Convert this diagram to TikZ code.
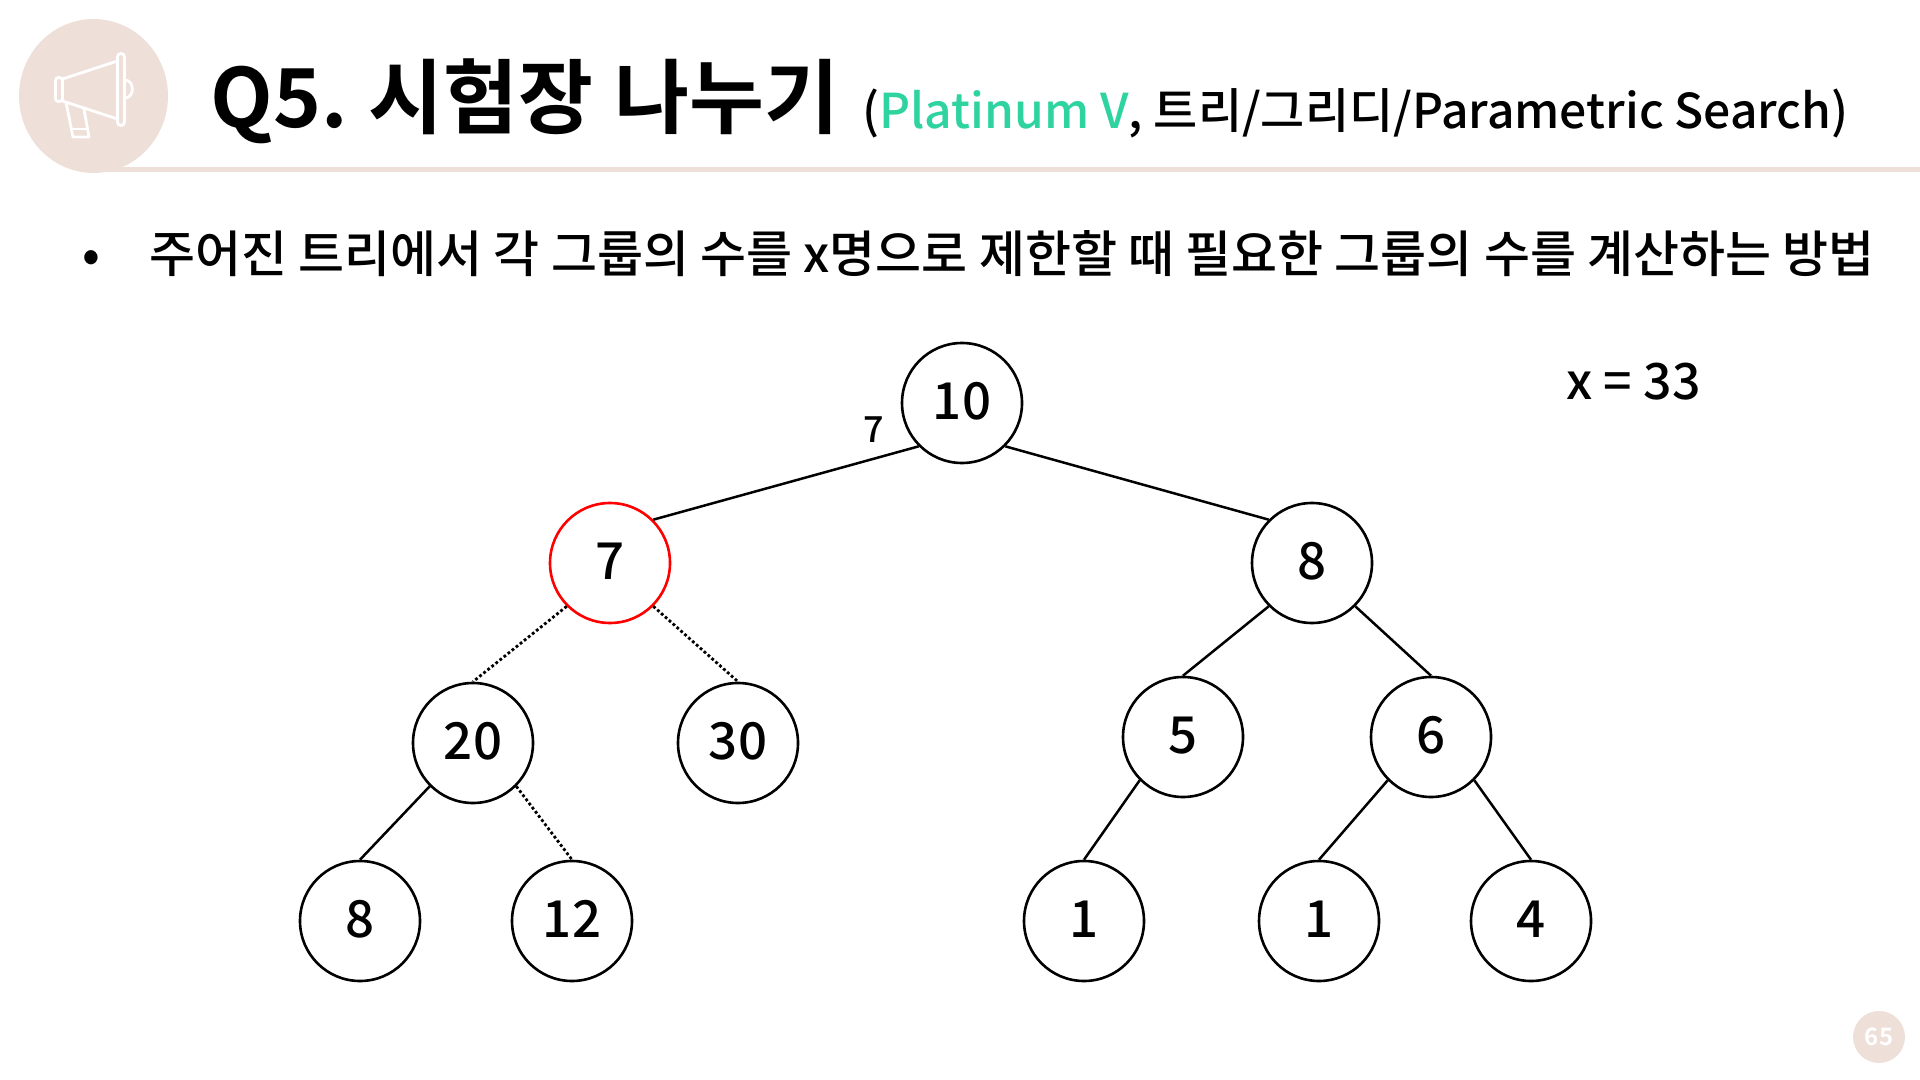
\documentclass[tikz,border=0pt]{standalone}
\usepackage{fontspec}
\usetikzlibrary{shapes.geometric}
\setmainfont{Noto Sans CJK KR Medium}[BoldFont={Noto Sans CJK KR Bold}]
\definecolor{headbeige}{HTML}{EEDFD9}
\definecolor{tiergreen}{HTML}{2ED3A0}
\tikzset{
	vertex/.style={circle, draw, line width=1.3pt, minimum size=60pt, inner sep=0pt, text height=18.6pt, text depth=1.8pt, font=\fontsize{25.5}{30}\selectfont},
	hotvertex/.style={vertex, draw=red},
	edge/.style={line width=1.25pt},
	cutedge/.style={edge, line width=1.4pt, dash pattern=on 1.4pt off 1.2pt},
	textline/.style={anchor=base west, inner sep=0pt},
	hornline/.style={draw=white, line width=1.4pt, line join=round}
}
\begin{document}
\begin{tikzpicture}[x=0.5pt, y=-0.5pt]
	\useasboundingbox (0,0) rectangle (1920,1080);

	% Draw the header
	\fill[headbeige] (100,167) rectangle (1920,172);
	\node[ellipse, fill=headbeige, minimum width=74.5pt, minimum height=77pt, inner sep=0pt] (badge) at (93.5,96) {};

	% Draw the megaphone
	\draw[hornline, rounded corners=1.5pt] (55.5,77.5) rectangle (62.5,101.5);
	\draw[hornline, rounded corners=1.7pt] (117.5,53.5) rectangle (124.5,125.5);
	\draw[hornline] (62.5,79) -- (117.5,61);
	\draw[hornline] (62.5,101) -- (117.5,119);
	\draw[hornline] (124.5,80) .. controls (135,80) and (135,98) .. (124.5,98);
	\draw[hornline] (66,102) -- (73,137) -- (89,137) -- (84,109);
	\draw[hornline] (72,129) -- (87,129);

	% Draw the title
	\node[textline, font=\fontsize{40.7}{48}\selectfont\bfseries] (title) at (210,128) {Q5.\hspace{-1.8pt} 시험장\hspace{1.5pt} 나누기};
	\node[textline, font=\fontsize{24}{28}\selectfont] (subtitle) at (862,129) {(\textcolor{tiergreen}{Platinum V}, 트리/그리디/Parametric Search)};

	% Draw the bullet
	\node[textline, font=\fontsize{25}{28}\selectfont] (dot) at (82,273) {•};
	\node[textline, font=\fontsize{25}{28}\selectfont] (intro) at (149,273) {주어진 트리에서 각 그룹의 수를 x명으로 제한할 때 필요한 그룹의 수를 계산하는 방법};

	% Draw the limit
	\node[textline, font=\fontsize{25}{30}\selectfont] (limit) at (1566,400) {x = 33};

	% Draw the tree
	\node[vertex] (root) at (962,403) {10};
	\node[hotvertex] (left) at (610,563) {7};
	\node[vertex] (right) at (1312,563) {8};
	\node[vertex] (twenty) at (473,743) {20};
	\node[vertex] (thirty) at (738,743) {30};
	\node[vertex] (five) at (1183,737) {5};
	\node[vertex] (six) at (1431,737) {6};
	\node[vertex] (eight) at (360,921) {8};
	\node[vertex] (twelve) at (572,921) {12};
	\node[vertex] (oneA) at (1084,921) {1};
	\node[vertex] (oneB) at (1319,921) {1};
	\node[vertex] (four) at (1531,921) {4};

	\node[font=\fontsize{18}{22}\selectfont, inner sep=0pt] (cost) at (874,430) {7};

	% Draw the edges
	\draw[edge] (root.south west) -- (left.north east);
	\draw[edge] (root.south east) -- (right.north west);
	\draw[cutedge] (left.south west) -- (twenty.north);
	\draw[cutedge] (left.south east) -- (thirty.north);
	\draw[edge] (right.south west) -- (five.north);
	\draw[edge] (right.south east) -- (six.north);
	\draw[edge] (twenty.south west) -- (eight.north);
	\draw[cutedge] (twenty.south east) -- (twelve.north);
	\draw[edge] (five.south west) -- (oneA.north);
	\draw[edge] (six.south west) -- (oneB.north);
	\draw[edge] (six.south east) -- (four.north);

	% Draw the page number
	\node[circle, fill=headbeige, minimum size=26pt, inner sep=0pt, text=white, font=\fontsize{12}{14}\selectfont\bfseries] (page) at (1879,1037) {65};
\end{tikzpicture}
\end{document}
